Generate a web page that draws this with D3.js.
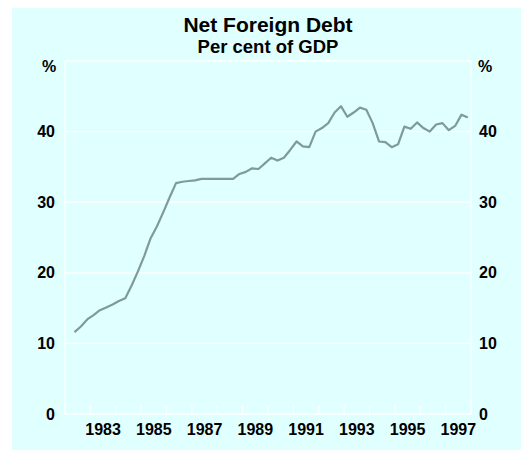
<!DOCTYPE html>
<html>
<head>
<meta charset="utf-8">
<script src="https://cdn.jsdelivr.net/npm/d3@7"></script>
<style>
  body { margin: 0; background: #fff; }
  svg { display: block; font-family: "Liberation Sans", Arial, sans-serif; font-weight: bold; }
</style>
</head>
<body>
<svg id="chart" width="521" height="450"></svg>
<script>
// quarterly, 1982 Q2 .. 1997 Q4, per cent of GDP
const startYear = 1982;
const startQuarter = 2;
const debt = [
  11.6, 12.4, 13.4, 14.0, 14.7, 15.1, 15.5, 16.0, 16.4, 18.2, 20.2, 22.4,
  24.9, 26.6, 28.6, 30.7, 32.7, 32.9, 33.0, 33.1, 33.3, 33.3, 33.3, 33.3,
  33.3, 33.3, 34.0, 34.3, 34.8, 34.7, 35.5, 36.3, 35.9, 36.3, 37.4, 38.6,
  37.9, 37.8, 40.0, 40.5, 41.2, 42.7, 43.6, 42.1, 42.7, 43.4, 43.1, 41.2,
  38.6, 38.5, 37.8, 38.2, 40.7, 40.4, 41.3, 40.5, 40.0, 41.0, 41.2, 40.2,
  40.8, 42.4, 42.0
];
const yTicks = [0, 10, 20, 30, 40, 50];
const yearLabels = [1983, 1985, 1987, 1989, 1991, 1993, 1995, 1997];

const data = debt.map((v, i) => ({
  t: startYear + (startQuarter - 1 + i + 0.5) / 4,
  v: v
}));

const svg = d3.select("#chart");
const margin = { top: 61, right: 50, bottom: 36, left: 65 };
const width = 521 - margin.left - margin.right;
const height = 450 - margin.top - margin.bottom;

svg.append("rect")
  .attr("x", 12).attr("y", 8)
  .attr("width", 509).attr("height", 442)
  .attr("fill", "#e0ffff");

svg.append("text")
  .attr("x", margin.left + width / 2).attr("y", 32)
  .attr("text-anchor", "middle")
  .attr("font-size", 21)
  .text("Net Foreign Debt");
svg.append("text")
  .attr("x", margin.left + width / 2).attr("y", 53)
  .attr("text-anchor", "middle")
  .attr("font-size", 18.5)
  .text("Per cent of GDP");

const g = svg.append("g").attr("transform", `translate(${margin.left},${margin.top})`);

const x = d3.scaleLinear().domain([1982, 1998]).range([0, width]);
const y = d3.scaleLinear().domain([0, 50]).range([height, 0]);

// gridlines
g.selectAll(".grid")
  .data(yTicks)
  .join("line")
  .attr("x1", 0).attr("x2", width)
  .attr("y1", d => y(d)).attr("y2", d => y(d))
  .attr("stroke", "#fff").attr("stroke-width", 1.3);

// frame sides
g.append("line").attr("x1", 0).attr("x2", 0).attr("y1", 0).attr("y2", height)
  .attr("stroke", "#fff").attr("stroke-width", 1.3);
g.append("line").attr("x1", width).attr("x2", width).attr("y1", 0).attr("y2", height)
  .attr("stroke", "#fff").attr("stroke-width", 1.3);

// year ticks
g.selectAll(".tick-year")
  .data(d3.range(1982, 1999))
  .join("line")
  .attr("x1", d => x(d)).attr("x2", d => x(d))
  .attr("y1", height).attr("y2", height - 8)
  .attr("stroke", "#fff").attr("stroke-width", 1.3);

// y labels left & right
g.selectAll(".yl")
  .data(yTicks.slice(0, 5))
  .join("text")
  .attr("x", -10).attr("y", d => y(d))
  .attr("dy", "0.35em")
  .attr("text-anchor", "end")
  .attr("font-size", 16)
  .text(d => d);
g.selectAll(".yr")
  .data(yTicks.slice(0, 5))
  .join("text")
  .attr("x", width + 8).attr("y", d => y(d))
  .attr("dy", "0.35em")
  .attr("text-anchor", "start")
  .attr("font-size", 16)
  .text(d => d);

g.append("text").attr("x", -16).attr("y", 11).attr("text-anchor", "middle")
  .attr("font-size", 16).text("%");
g.append("text").attr("x", width + 14).attr("y", 11).attr("text-anchor", "middle")
  .attr("font-size", 16).text("%");

// x labels
g.selectAll(".xl")
  .data(yearLabels)
  .join("text")
  .attr("x", d => x(d + 0.5)).attr("y", height + 20.5)
  .attr("text-anchor", "middle")
  .attr("font-size", 16)
  .text(d => d);

const line = d3.line()
  .x(d => x(d.t))
  .y(d => y(d.v));

g.append("path")
  .datum(data)
  .attr("fill", "none")
  .attr("stroke", "#7f9a98")
  .attr("stroke-width", 2.2)
  .attr("stroke-linejoin", "round")
  .attr("d", line);
</script>
</body>
</html>
